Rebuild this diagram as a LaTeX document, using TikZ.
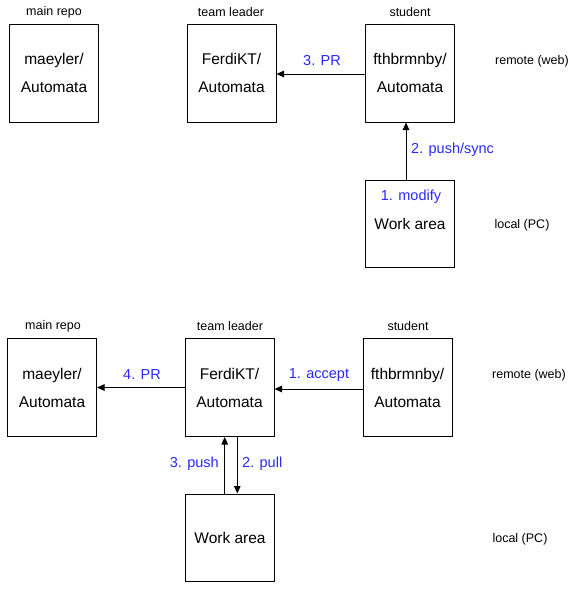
\documentclass[tikz,border=0pt]{standalone}
\usepackage{fontspec}
\setmainfont{Liberation Sans}
\usetikzlibrary{arrows.meta}
\definecolor{lblue}{RGB}{40,40,255}
\begin{document}
\begin{tikzpicture}[x=1pt,y=-1pt,
  repo/.style={draw,line width=1pt,minimum width=89pt,minimum height=98pt,inner sep=0pt,align=center,font=\fontsize{15.5}{28}\selectfont},
  workbox/.style={repo,minimum height=87pt},
  caplabel/.style={inner sep=0pt,yshift=-1pt,font=\fontsize{12.5}{14}\selectfont},
  act/.style={inner sep=0pt,yshift=-1pt,text=lblue,font=\fontsize{14.5}{16}\selectfont},
  conn/.style={line width=1pt,-{Triangle[length=7.5pt,width=6.5pt]}}]
\useasboundingbox (0,0) rectangle (580,597);
% ---------- top diagram ----------
\node[repo] (main1) at (54,73) {maeyler/\\Automata};
\node[repo] (team1) at (231.5,73) {FerdiKT/\\Automata};
\node[repo] (stud1) at (410,73) {fthbrmnby/\\Automata};
\node[workbox] (work1) at (410,223.5) {Work area};
\node[caplabel] (c1a) at (54,11) {main repo};
\node[caplabel] (c1b) at (231,11) {team leader};
\node[caplabel] (c1c) at (410,11) {student};
\node[caplabel] (r1) at (532,60) {remote (web)};
\node[caplabel] (l1) at (522,224) {local (PC)};
\node[act] (m1) at (411,196) {1. modify};
\draw[conn] ([yshift=-1pt]stud1.west) -- ([yshift=-1pt]team1.east);
\node[act] (pr1) at (322,60) {3. PR};
\draw[conn] ([xshift=-4pt]work1.north) -- ([xshift=-4pt]stud1.south);
\node[act,anchor=west] (ps1) at (411,149) {2. push/sync};
% ---------- bottom diagram ----------
\node[repo] (main2) at (52,387.5) {maeyler/\\Automata};
\node[repo] (team2) at (229.5,387.5) {FerdiKT/\\Automata};
\node[repo] (stud2) at (407.5,387.5) {fthbrmnby/\\Automata};
\node[workbox] (work2) at (230,537.5) {Work area};
\node[caplabel] (c2a) at (53,325) {main repo};
\node[caplabel] (c2b) at (230,325) {team leader};
\node[caplabel] (c2c) at (408,325) {student};
\node[caplabel] (r2) at (529,374) {remote (web)};
\node[caplabel] (l2) at (520,538) {local (PC)};
\draw[conn] ([yshift=-1.5pt]stud2.west) -- ([yshift=-1.5pt]team2.east);
\node[act] (ac2) at (319,374) {1. accept};
\draw[conn] (team2.west) -- (main2.east);
\node[act] (pr2) at (142,374) {4. PR};
\draw[conn] ([xshift=-5.3pt]work2.north) -- ([xshift=-4.8pt]team2.south);
\draw[conn] ([xshift=7.8pt]team2.south) -- ([xshift=7.3pt]work2.north);
\node[act,anchor=east] (pu2) at (219,463) {3. push};
\node[act,anchor=west] (pl2) at (242,463) {2. pull};
\end{tikzpicture}
\end{document}
